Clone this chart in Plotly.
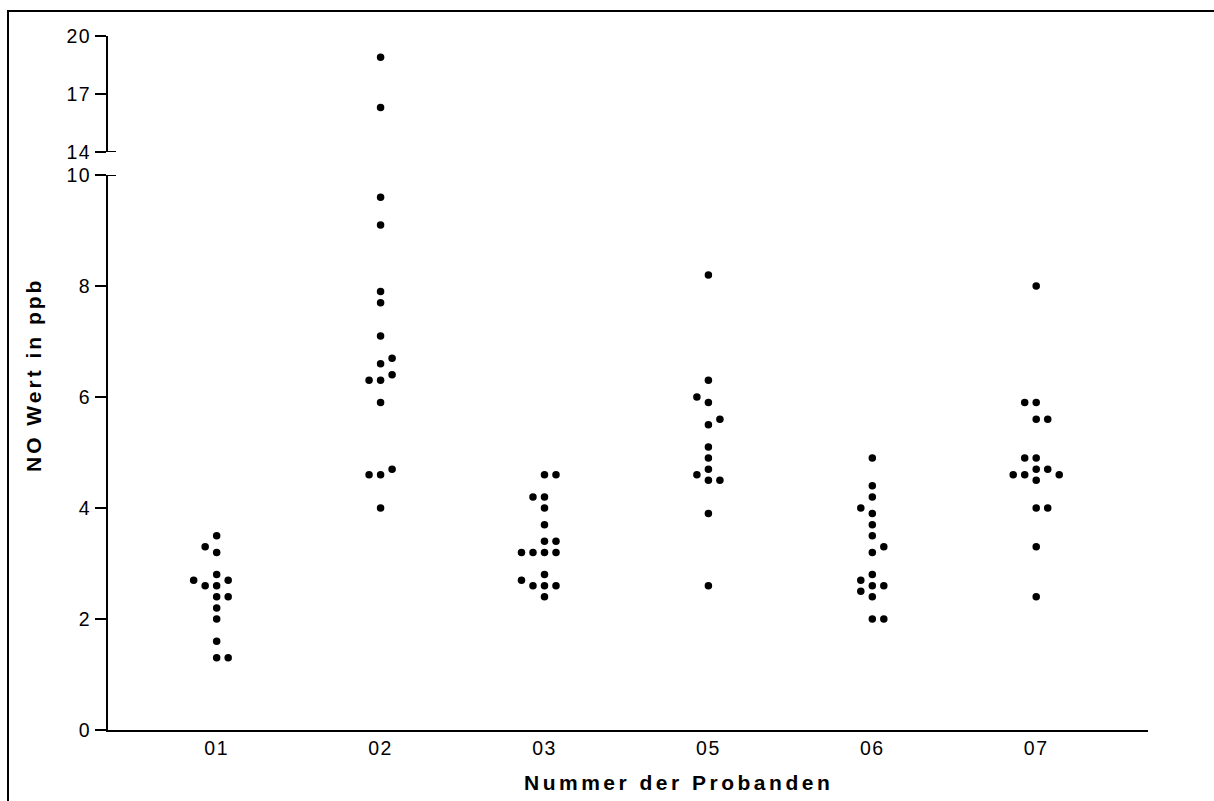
import plotly.graph_objects as go

# Subjects on the x axis
subjects = ["01", "02", "03", "05", "06", "07"]

# NO readings (ppb) per subject, in recorded order
no_01 = [2.6, 2.6, 1.3, 1.3, 3.2, 3.3, 2.4, 2.4, 2.7, 2.7, 3.5, 2.8, 2.2, 2.0, 1.6]
no_02 = [6.3, 6.3, 6.6, 6.7, 4.6, 4.6, 4.7, 6.4, 4.0, 5.9, 7.1, 7.7, 7.9, 9.1, 9.6, 16.3, 18.9]
no_03 = [4.2, 4.2, 4.6, 4.6, 3.2, 3.2, 3.2, 3.2, 3.4, 3.4, 2.6, 2.6, 2.6, 2.7, 4.0, 3.7, 2.8, 2.4]
no_05 = [5.9, 6.0, 5.5, 5.6, 4.7, 4.6, 4.5, 4.5, 8.2, 6.3, 5.1, 4.9, 3.9, 2.6]
no_06 = [3.9, 4.0, 3.2, 3.3, 2.8, 2.7, 2.6, 2.6, 2.4, 2.5, 2.0, 2.0, 4.9, 4.4, 4.2, 3.7, 3.5]
no_07 = [8.0, 5.9, 5.9, 5.6, 5.6, 4.9, 4.9, 4.7, 4.7, 4.5, 4.6, 4.6, 4.6, 4.0, 4.0, 3.3, 2.4]

groups = [no_01, no_02, no_03, no_05, no_06, no_07]

# Axis ticks (broken y axis)
lower_ticks = [0, 2, 4, 6, 8, 10]
upper_ticks = [14, 17, 20]

FONT = "Liberation Sans, Arial, sans-serif"
STEP = 0.0702      # horizontal distance between neighbouring dots
TOL = 0.15         # values closer than this collide in the same slot


def swarm_slots(values):
    """Greedy scatter layout: each value takes the centre slot if free,
    otherwise the nearest free slot, alternating sides."""
    placed = []
    slots = []
    side = -1
    for v in values:
        def free(k):
            return all(not (s == k and abs(v - u) < TOL) for u, s in placed)
        if free(0):
            k = 0
        else:
            j = 1
            while True:
                if free(side * j):
                    k = side * j
                    break
                if free(-side * j):
                    k = -side * j
                    break
                j += 1
            side = -1 if k > 0 else 1
        placed.append((v, k))
        slots.append(k)
    return slots


lo_x, lo_y, hi_x, hi_y = [], [], [], []
for gi, vals in enumerate(groups):
    for v, k in zip(vals, swarm_slots(vals)):
        x = gi + k * STEP
        if v > 10:
            hi_x.append(x)
            hi_y.append(v)
        else:
            lo_x.append(x)
            lo_y.append(v)

marker = dict(color="black", size=7.5, line=dict(width=0))

fig = go.Figure()
fig.add_trace(go.Scatter(x=lo_x, y=lo_y, mode="markers", marker=marker,
                         xaxis="x", yaxis="y", showlegend=False))
fig.add_trace(go.Scatter(x=hi_x, y=hi_y, mode="markers", marker=marker,
                         xaxis="x", yaxis="y2", showlegend=False))


def spaced(s, px):
    return f'<span style="letter-spacing:{px}px">{s}</span>'


TICKFONT = dict(family=FONT, size=19.5, color="black")

axis_common = dict(
    showline=True, linecolor="black", linewidth=2,
    ticks="outside", ticklen=11, tickwidth=2, tickcolor="black",
    showgrid=False, zeroline=False,
    tickfont=TICKFONT,
)

W, H = 1214, 801
ML, MR, MT, MB = 108, 66, 36, 71
PW, PH = W - ML - MR, H - MT - MB

fig.update_layout(
    width=W, height=H,
    margin=dict(l=ML, r=MR, t=MT, b=MB, pad=0),
    paper_bgcolor="white", plot_bgcolor="white",
    xaxis=dict(
        range=[-0.663, 5.682],
        tickvals=list(range(len(subjects))),
        ticktext=[spaced(s, 1.5) for s in subjects],
        showline=True, linecolor="black", linewidth=2,
        ticks="", showgrid=False, zeroline=False,
        tickfont=TICKFONT,
        anchor="y",
    ),
    yaxis=dict(
        domain=[0, (730 - 175) / PH],
        range=[0, 10],
        tickvals=lower_ticks,
        ticktext=[spaced(str(t), 1.5) for t in lower_ticks],
        anchor="x",
        **axis_common,
    ),
    yaxis2=dict(
        domain=[(730 - 152) / PH, 1],
        range=[14, 20],
        tickvals=upper_ticks,
        ticktext=[spaced(str(t), 1.5) for t in upper_ticks],
        anchor="x",
        **axis_common,
    ),
)

# break marks at the ends of the two y segments
for yref, yv in (("y", 10), ("y2", 14)):
    fig.add_shape(type="line", xref="paper", yref=yref,
                  x0=0, x1=8 / PW, y0=yv, y1=yv,
                  line=dict(color="black", width=2))

# outer frame
fig.add_shape(type="rect", xref="paper", yref="paper",
              x0=(8 - ML) / PW, x1=1.2, y0=-0.3, y1=(730 - 11) / PH,
              line=dict(color="black", width=2), fillcolor="rgba(0,0,0,0)")

# axis titles
fig.add_annotation(
    text="<b>" + spaced("NO Wert in ppb", 3) + "</b>",
    xref="paper", yref="paper",
    x=(33 - ML) / PW, y=(730 - 375) / PH,
    xanchor="center", yanchor="middle", textangle=-90, showarrow=False,
    font=dict(family=FONT, size=21, color="black"),
)
fig.add_annotation(
    text="<b>" + spaced("Nummer der Probanden", 3.5) + "</b>",
    xref="paper", yref="paper",
    x=(678 - ML) / PW, y=(730 - 782) / PH,
    xanchor="center", yanchor="middle", showarrow=False,
    font=dict(family=FONT, size=21, color="black"),
)

fig.write_html("out.html")
